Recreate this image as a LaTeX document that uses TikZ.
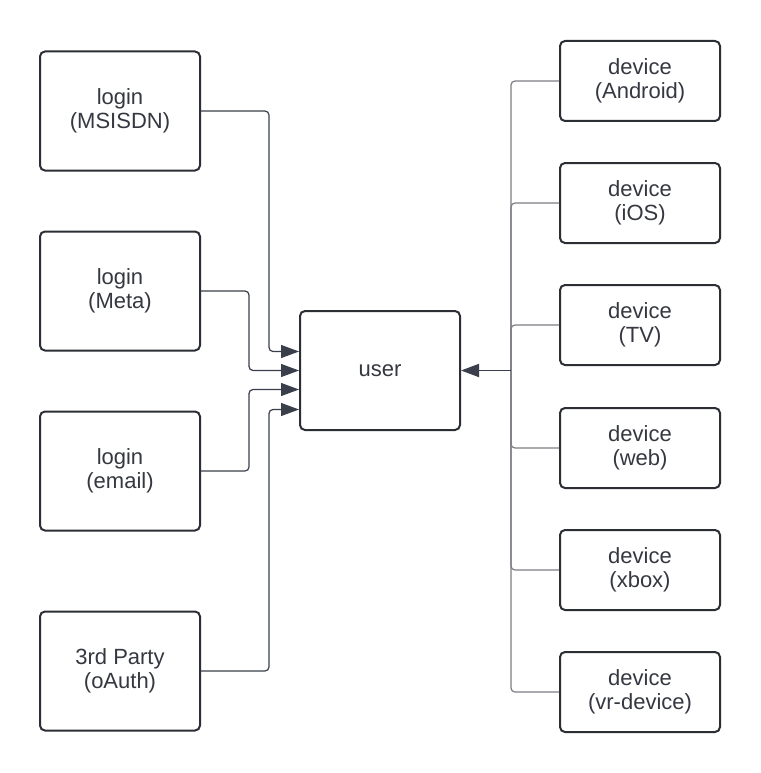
\documentclass[tikz,border=0pt]{standalone}
\usepackage{fontspec}
\setmainfont{Liberation Sans}
\usepackage{xcolor}
\definecolor{boxdark}{HTML}{2B2E35}
\definecolor{linkgray}{HTML}{7B7E84}
\definecolor{textgray}{HTML}{353840}
\definecolor{tipdark}{HTML}{3A3F4B}
\usetikzlibrary{arrows.meta,positioning,calc}
\tikzset{
  card/.style={draw=boxdark,line width=2pt,rounded corners=5pt,align=center,
    text=textgray,font=\fontsize{22}{24}\selectfont,inner sep=0pt},
  loginbox/.style={card,minimum width=160pt,minimum height=119pt},
  devbox/.style={card,minimum width=160pt,minimum height=80pt},
  link/.style={draw=linkgray,line width=1.2pt,rounded corners=4pt},
  tip/.style={-{Triangle[length=18pt,width=13pt]},tipdark}
}
\begin{document}
\begin{tikzpicture}[x=1pt,y=-1pt]
  \useasboundingbox[fill=white] (0,0) rectangle (760,773);
  % centre node
  \node[card,minimum width=160pt,minimum height=119pt] (user) at (380,370.5) {user};
  % login side
  \node[loginbox] (msisdn) at (120,111) {login\\(MSISDN)};
  \node[loginbox] (meta) at (120,291) {login\\(Meta)};
  \node[loginbox] (email) at (120,471) {login\\(email)};
  \node[loginbox] (oauth) at (120,671) {3rd Party\\(oAuth)};
  \draw[link,tip] (msisdn.east) -| ($(user.west)+(-30,-19)$) -- ($(user.west)+(0,-19)$);
  \draw[link,tip] (meta.east) -| ($(user.west)+(-50,0)$) -- (user.west);
  \draw[link,tip] (email.east) -| ($(user.west)+(-50,19)$) -- ($(user.west)+(0,19)$);
  \draw[link,tip] (oauth.east) -| ($(user.west)+(-30,39)$) -- ($(user.west)+(0,39)$);
  % device side
  \foreach \name/\lbl/\y in {android/Android/81, ios/iOS/203, tv/TV/325,
      web/web/448, xbox/xbox/570, vr/vr-device/692}{
    \node[devbox] (\name) at (640,\y) {device\\(\lbl)};
  }
  \coordinate (hub) at ($(user.east)+(50,0)$);
  \foreach \name in {android,ios,tv,web,xbox,vr}
    \draw[link] (\name.west) -| (hub);
  \draw[line width=1.8pt,tipdark,tip] (hub) -- (user.east);
\end{tikzpicture}
\end{document}
